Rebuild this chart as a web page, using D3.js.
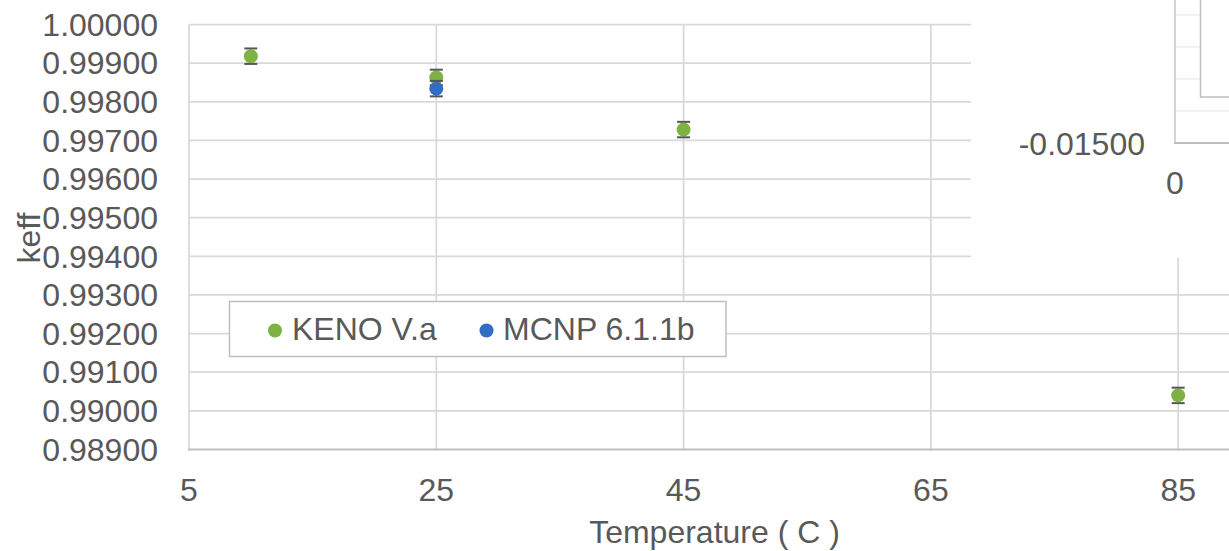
<!DOCTYPE html>
<html>
<head>
<meta charset="utf-8">
<script src="https://cdn.jsdelivr.net/npm/d3@7"></script>
<style>
  html, body { margin: 0; padding: 0; background: #fff; overflow: hidden; }
  svg { display: block; font-family: "Liberation Sans", Arial, sans-serif; }
</style>
</head>
<body>
<svg id="chart" width="1229" height="551"></svg>
<script>
// ---- data ----
const kenoTemps = [10, 25, 45, 85];
const kenoKeff  = [0.99918, 0.99863, 0.99728, 0.99040];
const kenoErr   = [0.0002, 0.0002, 0.0002, 0.0002];

const mcnpTemps = [25];
const mcnpKeff  = [0.99834];
const mcnpErr   = [0.0002];

const seriesNames = ["KENO V.a", "MCNP 6.1.1b"];
const xTicks = [5, 25, 45, 65, 85];
const yTicks = [0.989, 0.990, 0.991, 0.992, 0.993, 0.994, 0.995, 0.996, 0.997, 0.998, 0.999, 1.000];
const xTitle = "Temperature ( C )";
const yTitle = "keff";

// partially visible inset chart (upper right)
const insetYTicks = [-0.015];
const insetYGrid  = [-0.0125, -0.01, -0.0075, -0.005];
const insetXTicks = [0];

// ---- layout ----
const svg = d3.select("#chart");
const W = 1229, H = 551;
const plot = { left: 189, right: 1240, top: 24.5, bottom: 449.5 };
const textColor = "#595959";
const gridColor = "#d9d9d9";
const axisColor = "#bfbfbf";
const green = "#7cb342";
const blue = "#2f6ec4";

const x = d3.scaleLinear().domain([5, 90]).range([plot.left, plot.right]);
const y = d3.scaleLinear().domain([0.989, 1.0]).range([plot.bottom, plot.top]);
const fmt5 = v => v.toFixed(5);

const root = svg.append("g");

// gridlines
root.append("g").selectAll("line.h").data(yTicks.filter(v => v > 0.989)).join("line")
  .attr("x1", plot.left).attr("x2", plot.right)
  .attr("y1", d => y(d)).attr("y2", d => y(d))
  .attr("stroke", gridColor).attr("stroke-width", 1.75);
root.append("g").selectAll("line.v").data(xTicks).join("line")
  .attr("x1", d => x(d)).attr("x2", d => x(d))
  .attr("y1", plot.top).attr("y2", plot.bottom)
  .attr("stroke", gridColor).attr("stroke-width", 1.75);

// bottom axis line
root.append("line")
  .attr("x1", plot.left - 1).attr("x2", plot.right)
  .attr("y1", plot.bottom).attr("y2", plot.bottom)
  .attr("stroke", axisColor).attr("stroke-width", 2);

// y tick labels
root.append("g").selectAll("text").data(yTicks).join("text")
  .attr("x", 158).attr("y", d => y(d)).attr("dy", "0.35em")
  .attr("text-anchor", "end").attr("fill", textColor)
  .style("font-size", "32px")
  .text(d => fmt5(d));

// x tick labels
root.append("g").selectAll("text").data(xTicks).join("text")
  .attr("x", d => x(d)).attr("y", 501)
  .attr("text-anchor", "middle").attr("fill", textColor)
  .style("font-size", "32px")
  .text(d => d);

// axis titles
root.append("text")
  .attr("x", (plot.left + plot.right) / 2).attr("y", 543)
  .attr("text-anchor", "middle").attr("fill", textColor)
  .style("font-size", "32px").text(xTitle);
root.append("text")
  .attr("transform", "translate(40,238) rotate(-90)")
  .attr("text-anchor", "middle").attr("fill", textColor)
  .style("font-size", "32px").text(yTitle);

// error bars + markers
function drawSeries(temps, vals, errs, color) {
  const data = temps.map((t, i) => ({ t, v: vals[i], e: errs[i] }));
  const g = root.append("g");
  const eb = g.selectAll("g.eb").data(data).join("g");
  eb.append("line")
    .attr("x1", d => x(d.t)).attr("x2", d => x(d.t))
    .attr("y1", d => y(d.v - d.e)).attr("y2", d => y(d.v + d.e))
    .attr("stroke", "#555").attr("stroke-width", 1.5);
  [-1, 1].forEach(s => {
    eb.append("line")
      .attr("x1", d => x(d.t) - 6.5).attr("x2", d => x(d.t) + 6.5)
      .attr("y1", d => y(d.v + s * d.e)).attr("y2", d => y(d.v + s * d.e))
      .attr("stroke", "#555").attr("stroke-width", 2);
  });
  g.selectAll("circle").data(data).join("circle")
    .attr("cx", d => x(d.t)).attr("cy", d => y(d.v))
    .attr("r", 7).attr("fill", color);
}
drawSeries(kenoTemps, kenoKeff, kenoErr, green);
drawSeries(mcnpTemps, mcnpKeff, mcnpErr, blue);

// legend
const lg = root.append("g");
lg.append("rect").attr("x", 229.5).attr("y", 301.5).attr("width", 496.5).attr("height", 55)
  .attr("fill", "#fff").attr("stroke", axisColor).attr("stroke-width", 1.5);
const legendItems = [
  { name: seriesNames[0], color: green, mx: 275, tx: 292 },
  { name: seriesNames[1], color: blue, mx: 486.5, tx: 503 }
];
lg.selectAll("circle").data(legendItems).join("circle")
  .attr("cx", d => d.mx).attr("cy", 330.5).attr("r", 7).attr("fill", d => d.color);
lg.selectAll("text").data(legendItems).join("text")
  .attr("x", d => d.tx).attr("y", 340).attr("fill", textColor)
  .style("font-size", "32px").text(d => d.name);

// ---- overlapping inset chart (partially visible) ----
const inset = root.append("g");
inset.append("rect").attr("x", 971).attr("y", 0).attr("width", W - 971).attr("height", 258)
  .attr("fill", "#fff");
const ix = d3.scaleLinear().domain([0, 1]).range([1175, 1600]);
const iy = d3.scaleLinear().domain([-0.015, -0.005]).range([143, 15]);
inset.selectAll("line.ig").data(insetYGrid).join("line")
  .attr("x1", ix(0)).attr("x2", W)
  .attr("y1", d => iy(d)).attr("y2", d => iy(d))
  .attr("stroke", "#ececec").attr("stroke-width", 1.5);
// inner white box (inset legend / plot)
inset.append("rect").attr("x", 1200.5).attr("y", -5).attr("width", 60).attr("height", 102)
  .attr("fill", "#fff").attr("stroke", axisColor).attr("stroke-width", 1.5);
inset.append("line").attr("x1", ix(0)).attr("x2", ix(0)).attr("y1", 0).attr("y2", iy(-0.015))
  .attr("stroke", "#cfcfcf").attr("stroke-width", 1.75);
inset.append("line").attr("x1", ix(0) - 1).attr("x2", W).attr("y1", iy(-0.015)).attr("y2", iy(-0.015))
  .attr("stroke", axisColor).attr("stroke-width", 2);
inset.selectAll("text.iy").data(insetYTicks).join("text")
  .attr("x", 1145).attr("y", d => iy(d)).attr("dy", "0.36em")
  .attr("text-anchor", "end").attr("fill", textColor)
  .style("font-size", "32px").text(d => fmt5(d));
inset.selectAll("text.ix").data(insetXTicks).join("text")
  .attr("x", d => ix(d)).attr("y", 194)
  .attr("text-anchor", "middle").attr("fill", textColor)
  .style("font-size", "32px").text(d => d);
</script>
</body>
</html>
